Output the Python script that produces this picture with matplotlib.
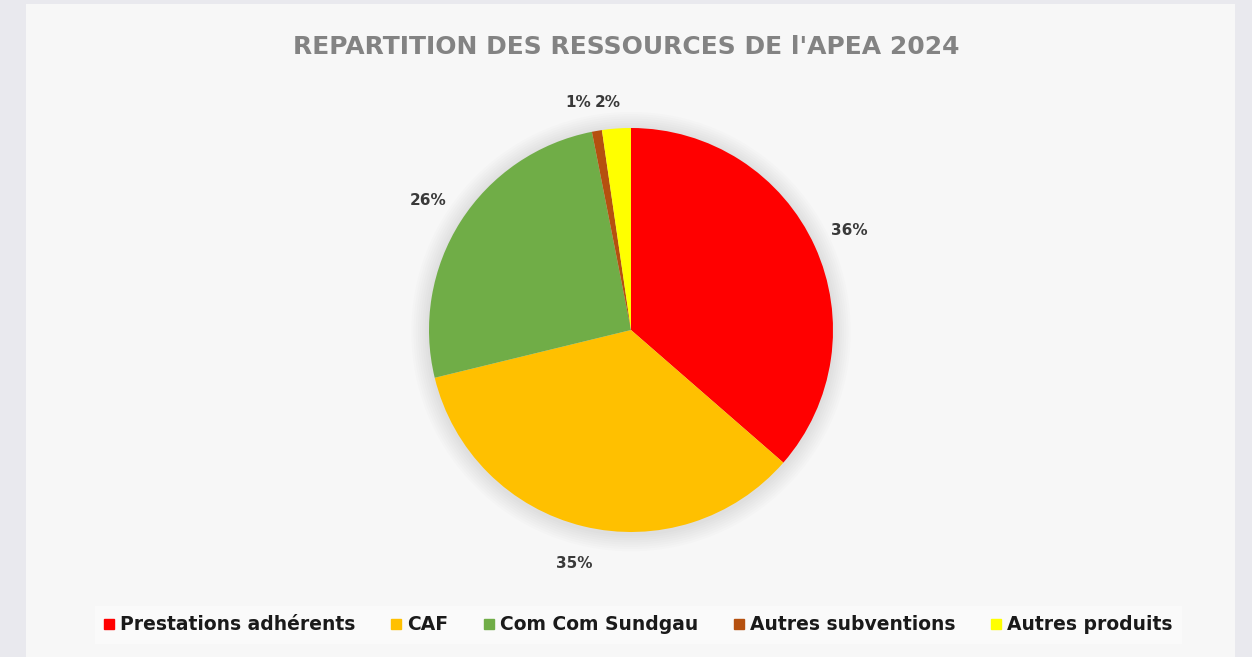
import numpy as np
import matplotlib
matplotlib.use("Agg")
import matplotlib.pyplot as plt
from matplotlib.patches import Rectangle, Circle
from matplotlib.lines import Line2D

title = "REPARTITION DES RESSOURCES DE l'APEA 2024"
categories = ["Prestations adhérents", "CAF", "Com Com Sundgau", "Autres subventions", "Autres produits"]
values = [36.4, 34.8, 25.7, 0.8, 2.3]
colors = ["#ff0000", "#ffc000", "#70ad47", "#b5500f", "#ffff00"]

W, H = 1252, 657
fig = plt.figure(figsize=(W / 100, H / 100), dpi=100)
fig.patch.set_facecolor("#e9e9ee")
fig.add_artist(Rectangle((26 / W, 0), (1235 - 26) / W, (657 - 4) / H,
                         transform=fig.transFigure, facecolor="#f7f7f7",
                         edgecolor="none", zorder=0))

cx, cy, R = 631, 330, 202
half = 300
ax = fig.add_axes([(cx - half) / W, (H - cy - half) / H, 2 * half / W, 2 * half / H])

# soft shadow
for i in range(8):
    ax.add_patch(Circle((0.0, -0.008), 1.0 + 0.011 * (i + 1), facecolor="#000000",
                        alpha=0.012, edgecolor="none", zorder=0))

wedges, texts, autotexts = ax.pie(
    values, colors=colors, startangle=90, counterclock=False,
    autopct=lambda p: f"{p:.0f}%", pctdistance=1.19,
    radius=1.0, frame=False,
    textprops=dict(fontsize=11, fontweight="bold", color="#3a3a3a", family="DejaVu Sans"),
)
for w in wedges:
    w.set_zorder(2)

# small slices: place labels side by side at their shared boundary
small = [i for i, v in enumerate(values) if v < 3]
if len(small) == 2:
    a, b = small
    ang = np.deg2rad(wedges[a].theta1)  # boundary between the two small slices
    r = 1.14
    x0, y0 = r * np.cos(ang), r * np.sin(ang)
    autotexts[a].set_position((x0 - 0.035, y0))
    autotexts[a].set_ha("right")
    autotexts[b].set_position((x0 - 0.015, y0))
    autotexts[b].set_ha("left")

ax.set_xlim(-half / R, half / R)
ax.set_ylim(-half / R, half / R)
ax.set_aspect("equal")
ax.axis("off")

fig.text(0.5, 1 - 47 / H, title, ha="center", va="center", fontsize=18,
         fontweight="bold", color="#838383", family="DejaVu Sans")

handles = [Line2D([0], [0], marker="s", linestyle="none", markersize=7.5,
                  markerfacecolor=c, markeredgecolor=c) for c in colors]
leg = fig.legend(handles, categories, loc="center", bbox_to_anchor=(0.510, 1 - 625 / H),
                 ncol=5, frameon=True, handlelength=0.5, handletextpad=0.35,
                 columnspacing=1.9, borderpad=0.5,
                 prop=dict(family="DejaVu Sans", weight="bold", size=13.5))
leg.get_frame().set_facecolor("#fcfcfc")
leg.get_frame().set_edgecolor("none")
leg.get_frame().set_boxstyle("square", pad=0)
for t in leg.get_texts():
    t.set_color("#1a1a1a")

fig.savefig("out.png", dpi=100, facecolor=fig.get_facecolor())
